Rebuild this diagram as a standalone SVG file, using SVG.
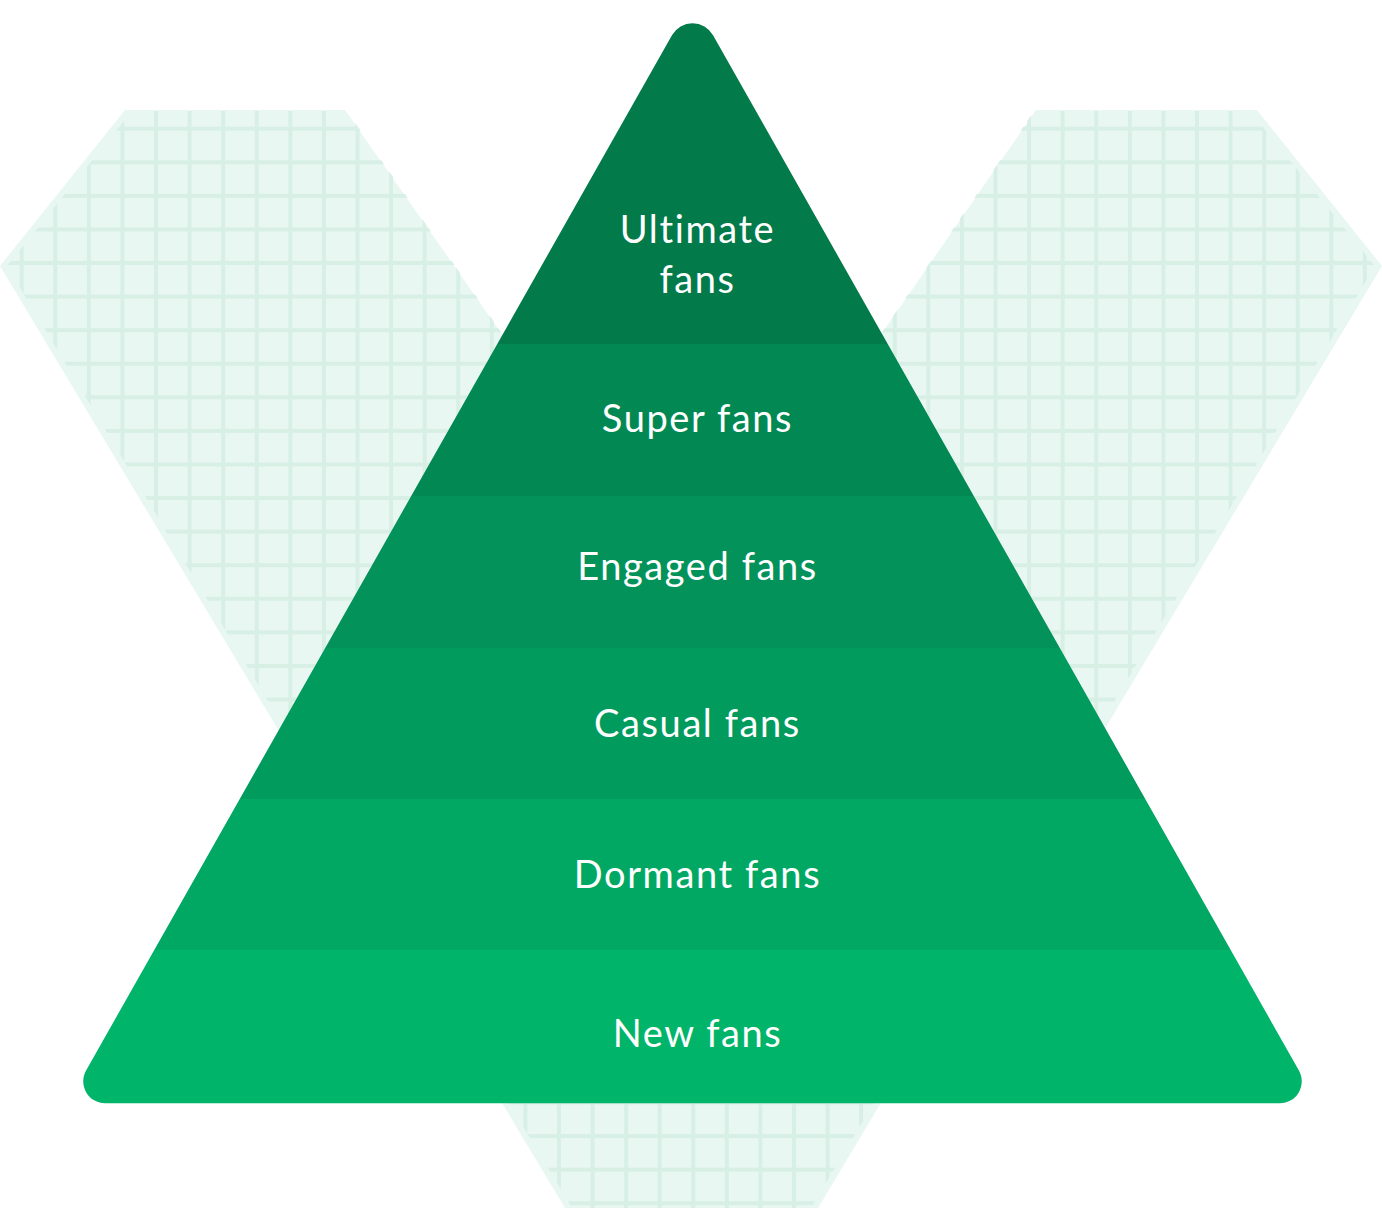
<svg xmlns="http://www.w3.org/2000/svg" width="1382" height="1208" viewBox="0 0 1382 1208">
  <style>
    .lbl { font-family: Lato, "Open Sans", "Liberation Sans", sans-serif; font-size: 38px; font-weight: 400; letter-spacing: 1.6px; fill: #ffffff; text-anchor: middle; }
  </style>
  <defs>
    <pattern id="grid" patternUnits="userSpaceOnUse" x="19.7" y="126.7" width="33.58" height="33.58">
      <rect x="0" y="0" width="33.58" height="4" fill="#d8efe6"/>
      <rect x="0" y="0" width="4" height="33.58" fill="#d8efe6"/>
    </pattern>
    <clipPath id="gridClip">
      <polygon points="132,111 347,111 693,607 1034,111 1250,111 1375,266 811,1208 572,1208 7,266"/>
    </clipPath>
    <clipPath id="pyrClip">
      <path d="M 671.96 35.29 A 23.6 23.6 0 0 1 713.04 35.29 L 1298.91 1070.46 A 22 22 0 0 1 1279.77 1103.3 L 105.23 1103.3 A 22 22 0 0 1 86.09 1070.46 Z"/>
    </clipPath>
  </defs>

  <g id="background">
    <polygon points="125,110 345,110 693,607 1036,110 1257,110 1382,266 818,1208 565,1208 0,266" fill="#e8f7f2"/>
    <rect x="0" y="100" width="1382" height="1108" fill="url(#grid)" clip-path="url(#gridClip)"/>
  </g>

  <g id="pyramid" clip-path="url(#pyrClip)">
    <g id="layer-ultimate"><rect x="0" y="0" width="1382" height="344" fill="#027a4a"/></g>
    <g id="layer-super"><rect x="0" y="344" width="1382" height="152" fill="#028953"/></g>
    <g id="layer-engaged"><rect x="0" y="496" width="1382" height="152" fill="#03925a"/></g>
    <g id="layer-casual"><rect x="0" y="648" width="1382" height="151" fill="#029b5e"/></g>
    <g id="layer-dormant"><rect x="0" y="799" width="1382" height="151" fill="#01a864"/></g>
    <g id="layer-new"><rect x="0" y="950" width="1382" height="160" fill="#00b46a"/></g>
  </g>

  <g id="labels">
    <text class="lbl" x="697.5" y="243.3">Ultimate</text>
    <text class="lbl" x="697.5" y="292.5">fans</text>
    <text class="lbl" x="697.5" y="431.7">Super fans</text>
    <text class="lbl" x="697.5" y="580">Engaged fans</text>
    <text class="lbl" x="697.5" y="737">Casual fans</text>
    <text class="lbl" x="697.5" y="887.7">Dormant fans</text>
    <text class="lbl" x="697.5" y="1047.3">New fans</text>
  </g>

  <g id="connectors"/>
</svg>
